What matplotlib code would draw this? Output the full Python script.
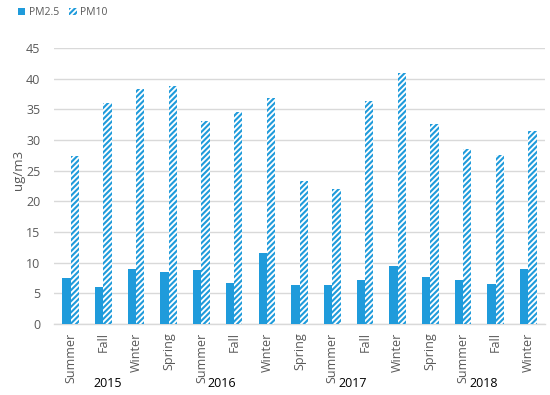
import matplotlib
matplotlib.use("Agg")
import matplotlib.pyplot as plt
from matplotlib.patches import Patch
import numpy as np

seasons = ["Summer", "Fall", "Winter", "Spring", "Summer", "Fall", "Winter", "Spring",
           "Summer", "Fall", "Winter", "Spring", "Summer", "Fall", "Winter"]
years = ["2015", "2016", "2017", "2018"]
year_sizes = [3, 4, 4, 4]
pm25 = [7.5, 6.1, 9.0, 8.4, 8.8, 6.7, 11.5, 6.3, 6.3, 7.2, 9.5, 7.7, 7.1, 6.5, 8.9]
pm10 = [27.4, 36.1, 38.3, 38.8, 33.1, 34.6, 36.8, 23.3, 22.0, 36.4, 40.9, 32.6, 28.5, 27.5, 31.4]

blue = "#1F9BDB"
plt.rcParams['font.family'] = ['Open Sans', 'DejaVu Sans']
plt.rcParams['hatch.linewidth'] = 1.5

fig = plt.figure(figsize=(5.5, 3.95), dpi=100)
ax = fig.add_axes([0.0987, 0.1797, 0.8918, 0.6988])

x = np.arange(len(seasons))
w = 0.254
ax.bar(x - w / 2, pm25, width=w, color=blue, linewidth=0, zorder=3)
ax.bar(x + w / 2, pm10, width=w, facecolor="white", edgecolor=blue, hatch="//////",
       linewidth=0, zorder=3)

ax.set_xlim(-0.5, len(seasons) - 0.5)
ax.set_ylim(0, 45)
ax.set_yticks(np.arange(0, 46, 5))
ax.yaxis.grid(True, color="#D9D9D9", linewidth=1.0, zorder=0)
ax.set_axisbelow(True)
for s in ["top", "right", "left"]:
    ax.spines[s].set_visible(False)
ax.spines["bottom"].set_color("#D9D9D9")
ax.spines["bottom"].set_linewidth(1.0)
ax.tick_params(axis="y", length=0, pad=10, labelsize=9, labelcolor="#595959")
ax.tick_params(axis="x", length=0, pad=6, labelsize=9, labelcolor="#595959")
ax.set_xticks(x)
ax.set_xticklabels(seasons, rotation=90, va="top", ha="center")

# year labels
start = 0
for yr, n in zip(years, year_sizes):
    c = start + (n - 1) / 2
    ax.text(c + 0.12, -0.215, yr, transform=ax.get_xaxis_transform(), ha="center",
            va="center", fontsize=9, color="black")
    start += n

fig.text(0.033, 0.57, "ug/m3", rotation=90, ha="center", va="center", fontsize=9.5,
         color="#595959")

handles = [Patch(facecolor=blue, linewidth=0),
           Patch(facecolor="white", edgecolor=blue, hatch="//////", linewidth=0)]
fig.legend(handles, ["PM2.5", "PM10"], loc="upper left", bbox_to_anchor=(0.016, 1.005),
           ncol=2, frameon=False, fontsize=7.5, handlelength=0.7, handleheight=0.7,
           handletextpad=0.3, columnspacing=1.0, labelcolor="#595959")

fig.savefig("out.png", dpi=100)
